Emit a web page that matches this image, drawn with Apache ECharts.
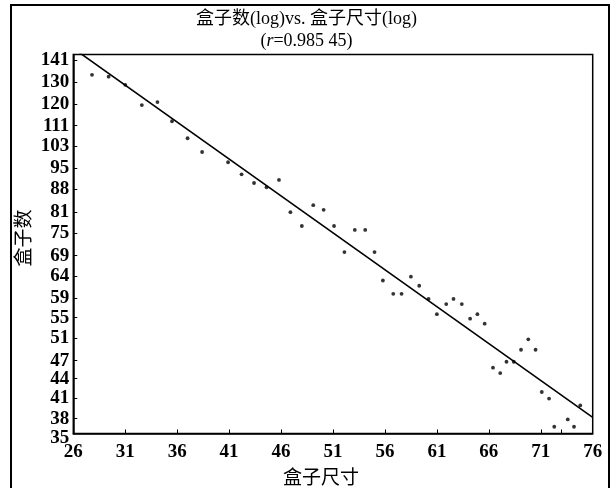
<!DOCTYPE html>
<html>
<head>
<meta charset="utf-8">
<script src="https://cdn.jsdelivr.net/npm/echarts@6/dist/echarts.min.js"></script>
<style>html,body{margin:0;padding:0;background:#fff;}#c{width:613px;height:488px;}</style>
</head>
<body>
<div id="c"></div>
<script>
// Box size (x) and box count (y)
const boxSize = [27.8, 29.4, 31.0, 32.6, 34.1, 35.5, 37.0, 38.4, 40.9, 42.2, 43.4, 44.6, 45.8, 46.9, 48.0, 49.1, 50.1, 51.1, 52.1, 53.1, 54.1, 55.0, 55.8, 56.8, 57.6, 58.5, 59.3, 60.2, 61.0, 61.9, 62.6, 63.4, 64.2, 64.9, 65.6, 66.4, 67.1, 67.7, 68.4, 69.1, 69.8, 70.5, 71.1, 71.8, 72.3, 73.6, 74.2, 74.8];
const boxCount = [133.7, 132.8, 128.9, 119.7, 121.0, 112.8, 106.0, 100.8, 97.1, 92.9, 90.0, 88.6, 91.0, 80.9, 76.9, 83.0, 81.6, 76.9, 69.9, 75.8, 75.8, 69.9, 63.0, 60.0, 60.0, 63.9, 61.8, 58.9, 55.7, 57.8, 58.9, 57.8, 54.8, 55.7, 53.8, 45.8, 44.9, 46.8, 46.8, 48.9, 50.8, 48.9, 41.9, 40.9, 36.9, 37.9, 36.9, 39.9];
// Fitted line end points
const fitX = [26, 76];
const fitY = [147.3, 38.2];
// Tick labels
const yTickLabels = [35, 38, 41, 44, 47, 51, 55, 59, 64, 69, 75, 81, 88, 95, 103, 111, 120, 130, 141];
const xTickLabels = [26, 31, 36, 41, 46, 51, 56, 61, 66, 71, 76];
const xTickMarks = [31, 36, 41, 46, 51, 56, 61, 66, 71, 73];
const yRange = [36, 144];
const xRange = [26, 76];

const yMin = Math.log(yRange[0]);
const yMax = Math.log(yRange[1]);
const yLabelPos = yTickLabels.map(t => Math.max(Math.log(t), yMin));
const yTickPos = yTickLabels.filter(t => Math.log(t) > yMin).map(t => Math.log(t));

const serif = '"Liberation Serif", "DejaVu Serif", "Noto Sans CJK SC", serif';
const chart = echarts.init(document.getElementById('c'), null, {renderer: 'canvas'});
chart.setOption({
  animation: false,
  backgroundColor: '#fff',
  title: {
    text: '盒子数(log)vs. 盒子尺寸(log)\n({i|r}=0.985 45)',
    left: 'center',
    top: 3,
    textStyle: {
      fontFamily: serif, fontSize: 18, fontWeight: 'normal', color: '#000', lineHeight: 22,
      rich: {i: {fontFamily: serif, fontSize: 18, fontStyle: 'italic', color: '#000', lineHeight: 22}}
    }
  },
  graphic: [{
    type: 'rect', silent: true,
    shape: {x: 11, y: 5, width: 598, height: 495},
    style: {fill: 'none', stroke: '#000', lineWidth: 2}
  }],
  grid: {left: 73.3, right: 20.3, top: 54.5, bottom: 54.5, show: true, borderColor: '#000', borderWidth: 1.5, containLabel: false, outerBoundsMode: 'none'},
  xAxis: {
    type: 'value', min: xRange[0], max: xRange[1],
    name: '盒子尺寸', nameLocation: 'middle', nameGap: 36, nameMoveOverlap: false,
    nameTextStyle: {fontFamily: serif, fontSize: 19, color: '#000', padding: [0, 24, 0, 0]},
    axisLine: {show: true, lineStyle: {color: '#000', width: 1.5}},
    axisTick: {show: true, inside: true, length: 4, customValues: xTickMarks, lineStyle: {color: '#000', width: 1}},
    axisLabel: {customValues: xTickLabels, margin: 9, fontFamily: serif, fontSize: 19, fontWeight: 'bold', color: '#000'},
    splitLine: {show: false}
  },
  yAxis: {
    type: 'value', min: yMin, max: yMax,
    name: '盒子数', nameLocation: 'middle', nameGap: 39, nameMoveOverlap: false,
    nameTextStyle: {fontFamily: serif, fontSize: 19, color: '#000', padding: [0, 0, 0, 12]},
    axisLine: {show: true, lineStyle: {color: '#000', width: 1.5}},
    axisTick: {show: true, inside: true, length: 4, customValues: yTickPos, lineStyle: {color: '#000', width: 1}},
    axisLabel: {
      customValues: yLabelPos, margin: 4, fontFamily: serif, fontSize: 19, fontWeight: 'bold', color: '#000',
      formatter: function (v) {
        let best = 0, d = Infinity;
        yLabelPos.forEach((p, i) => { const dd = Math.abs(p - v); if (dd < d) { d = dd; best = i; } });
        return best === 0 ? '{low|' + yTickLabels[0] + '}' : String(yTickLabels[best]);
      },
      rich: {low: {fontFamily: serif, fontSize: 19, fontWeight: 'bold', color: '#000', padding: [9, 0, 0, 0]}}
    },
    splitLine: {show: false}
  },
  series: [
    {
      type: 'scatter', symbol: 'circle', symbolSize: 3.8,
      itemStyle: {color: '#000'},
      data: boxSize.map((x, i) => [x, Math.log(boxCount[i])]),
      silent: true
    },
    {
      type: 'line', symbol: 'none', clip: true,
      lineStyle: {color: '#000', width: 1.6},
      data: fitX.map((x, i) => [x, Math.log(fitY[i])]),
      silent: true
    }
  ]
});
</script>
</body>
</html>
